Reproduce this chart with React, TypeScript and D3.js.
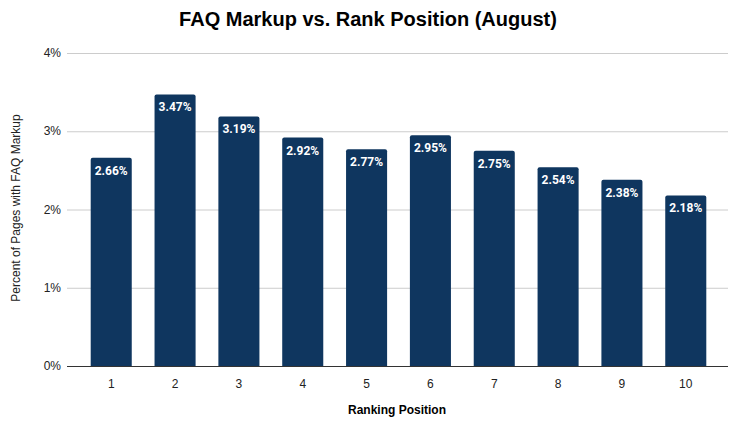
import React, { useEffect, useRef } from "react";
import * as d3 from "d3";

const positions: string[] = ["1", "2", "3", "4", "5", "6", "7", "8", "9", "10"];
const faqShare: number[] = [2.66, 3.47, 3.19, 2.92, 2.77, 2.95, 2.75, 2.54, 2.38, 2.18];
const yTicks: number[] = [0, 1, 2, 3, 4];

const chartTitle = "FAQ Markup vs. Rank Position (August)";
const xTitle = "Ranking Position";
const yTitle = "Percent of Pages with FAQ Markup";

const WIDTH = 734;
const HEIGHT = 421;
const BAR_COLOR = "#0f365f";

const App: React.FC = () => {
  const svgRef = useRef<SVGSVGElement>(null);

  useEffect(() => {
    if (!svgRef.current) return;
    const svg = d3.select(svgRef.current);
    svg.selectAll("*").remove();

    const left = 67;
    const right = 728;
    const top = 53;
    const bottom = 366;

    const x = d3.scaleBand<string>()
      .domain(positions)
      .range([69, right])
      .paddingInner(0.357)
      .paddingOuter(0.34);

    const y = d3.scaleLinear().domain([0, 4]).range([bottom, top]);

    // Gridlines
    svg.append("g")
      .selectAll("line")
      .data(yTicks.filter(t => t > 0))
      .join("line")
      .attr("x1", left)
      .attr("x2", right)
      .attr("y1", d => y(d) + 0.5)
      .attr("y2", d => y(d) + 0.5)
      .attr("stroke", "#cccccc")
      .attr("stroke-width", 1);

    // Y tick labels
    svg.append("g")
      .selectAll("text")
      .data(yTicks)
      .join("text")
      .attr("x", 61)
      .attr("y", d => y(d))
      .attr("dy", "0.35em")
      .attr("text-anchor", "end")
      .attr("font-family", "Liberation Sans, Arial, sans-serif")
      .attr("font-size", 12)
      .attr("fill", "#222")
      .text(d => `${d}%`);

    // Bars with slightly rounded tops
    const bw = x.bandwidth();
    const r = 2;
    svg.append("g")
      .selectAll("path")
      .data(faqShare)
      .join("path")
      .attr("fill", BAR_COLOR)
      .attr("d", (d, i) => {
        const x0 = x(positions[i]) as number;
        const y0 = y(d);
        return `M${x0},${bottom} V${y0 + r} Q${x0},${y0} ${x0 + r},${y0} H${x0 + bw - r} Q${x0 + bw},${y0} ${x0 + bw},${y0 + r} V${bottom} Z`;
      });

    // Value labels
    svg.append("g")
      .selectAll("text")
      .data(faqShare)
      .join("text")
      .attr("x", (d, i) => (x(positions[i]) as number) + bw / 2)
      .attr("y", d => y(d) + 17)
      .attr("text-anchor", "middle")
      .attr("font-family", "Roboto, sans-serif")
      .attr("font-weight", "bold")
      .attr("font-size", 12)
      .attr("fill", "#ffffff")
      .text(d => `${d.toFixed(2)}%`);

    // Baseline
    svg.append("line")
      .attr("x1", left)
      .attr("x2", right)
      .attr("y1", bottom + 0.5)
      .attr("y2", bottom + 0.5)
      .attr("stroke", "#333333")
      .attr("stroke-width", 1);

    // X tick labels
    svg.append("g")
      .selectAll("text")
      .data(positions)
      .join("text")
      .attr("x", d => (x(d) as number) + bw / 2)
      .attr("y", 388)
      .attr("text-anchor", "middle")
      .attr("font-family", "Liberation Sans, Arial, sans-serif")
      .attr("font-size", 12)
      .attr("fill", "#222")
      .text(d => d);

    // Title
    svg.append("text")
      .attr("x", 368)
      .attr("y", 26)
      .attr("text-anchor", "middle")
      .attr("font-family", "Liberation Sans, Arial, sans-serif")
      .attr("font-weight", "bold")
      .attr("font-size", 20)
      .attr("fill", "#000")
      .text(chartTitle);

    // X axis title
    svg.append("text")
      .attr("x", 397)
      .attr("y", 414)
      .attr("text-anchor", "middle")
      .attr("font-family", "Liberation Sans, Arial, sans-serif")
      .attr("font-weight", "bold")
      .attr("font-size", 12)
      .attr("fill", "#000")
      .text(xTitle);

    // Y axis title
    svg.append("text")
      .attr("transform", `translate(20, 208) rotate(-90)`)
      .attr("text-anchor", "middle")
      .attr("font-family", "Liberation Sans, Arial, sans-serif")
      .attr("font-size", 12)
      .attr("fill", "#222")
      .text(yTitle);
  }, []);

  return (
    <div style={{ position: "absolute", left: 0, top: 0 }}>
      <svg ref={svgRef} width={WIDTH} height={HEIGHT} style={{ display: "block", background: "#fff" }}></svg>
    </div>
  );
};

export default App;
